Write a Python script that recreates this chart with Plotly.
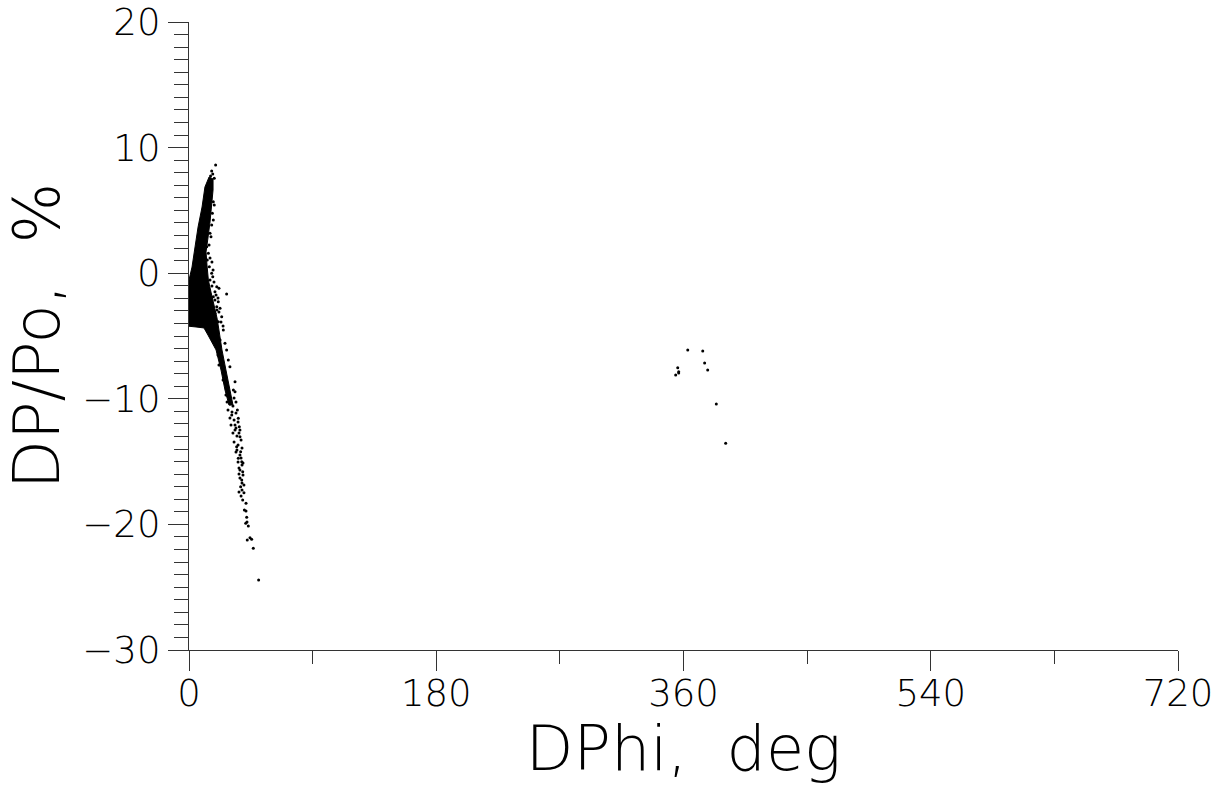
import plotly.graph_objects as go

# ---- data ----
# outline of the solid, densely packed core of the cloud (DPhi deg, DP/Po %)
core_x = [14.6, 17.5, 17.5, 16.7, 15.3, 13.8, 12.4, 13.1, 14.1, 16.0, 18.2, 20.4, 21.8,
          24.0, 26.9, 29.8, 32.0, 29.1, 26.2, 23.3, 19.7, 13.8, 10.9, 5.1, -2.2, -2.2,
          -1.5, 0.0, 2.2, 4.4, 6.6, 9.5, 11.6, 14.6]
core_y = [7.66, 7.50, 6.62, 5.43, 4.08, 2.80, 1.69, 0.65, -0.54, -1.50, -2.53, -3.57, -4.52,
          -6.11, -7.71, -9.30, -10.49, -10.49, -9.30, -7.71, -6.11, -4.92, -4.36, -4.28, -4.20, -2.93,
          -1.89, -0.54, 0.49, 2.09, 3.68, 5.27, 6.86, 7.66]

# individual scattered points around the core and along the tail
pts_x = [19.4, 16.5, 17.3, 18.4, 15.7, 17.7, 18.4, 17.0, 17.7, 16.5, 15.3, 16.0,
         12.9, 14.1, 13.3, 14.8, 16.5, 17.3, 15.3, 20.2, 21.8, 27.4, 18.9, 17.7,
         21.3, 20.2, 22.6, 18.9, 23.8, 15.3, 21.3, 14.1, 25.0, 26.2, 27.4, 28.6,
         29.8, 33.5, 32.3, 33.5, 22.6, 18.9, 16.7, 21.1, 21.8, 24.8, 26.9,
         29.8, 35.2, 35.9, 31.1, 36.6, 33.5, 37.1, 34.7, 37.6, 35.9, 38.4, 37.1,
         39.1, 38.4, 37.6, 40.0, 36.4, 37.9, 39.1, 41.5, 40.3, 41.5, 42.0, 41.3,
         42.2, 43.2, 44.4, 45.6, 42.4, 46.8, 50.7,
         27.7, 29.8, 32.0, 28.4, 31.3, 34.2, 29.8, 32.8, 35.7, 30.6, 34.2, 37.1,
         32.0, 34.9, 37.9, 32.8, 35.7, 38.6, 34.2, 37.1, 35.7, 38.6, 36.4, 39.3,
         37.1, 38.6, 32.8, 34.2, 28.4, 33.5, 36.4, 34.9, 37.9, 39.3, 36.4, 40.0, 38.6,
         14.6, 15.3, 16.7, 17.5, 18.2, 19.7, 21.1, 21.8, 23.3, 24.8, 16.7, 18.9, 20.4]
pts_y = [8.61, 8.14, 7.90, 7.56, 7.74, 5.69, 5.43, 4.77, 4.24, 3.84, 3.18, 2.91,
         2.11, 1.58, 1.05, 0.52, -0.01, -0.28, -0.54, -1.07, -1.20, -1.66, -1.47, -1.87,
         -2.27, -2.67, -2.80, -3.19, -3.46, -3.73, -3.86, -4.12, -4.52, -5.58, -6.11, -6.91,
         -7.44, -8.64, -9.30, -9.43, -5.32, -5.48, -5.16, -6.51, -7.31, -8.50, -9.70,
         -10.10, -10.89, -11.55, -11.29, -12.22, -12.48, -13.02, -13.81, -14.21, -14.74, -15.01, -15.67,
         -15.80, -16.46, -17.00, -17.48, -17.42, -17.74, -18.06, -18.32, -18.85, -18.93, -19.44, -19.91,
         -19.81, -20.13, -21.06, -21.19, -21.24, -21.90, -24.43,
         -10.25, -10.41, -10.57, -10.89, -11.05, -11.13, -11.53, -11.69, -11.85, -12.09, -12.33, -12.48,
         -12.72, -12.96, -13.28, -13.44, -13.68, -13.92, -14.24, -14.47, -15.03, -15.27, -15.51, -16.07,
         -16.31, -16.70, -9.94, -10.25, -9.78, -12.09, -12.72, -14.08, -14.71, -15.11, -15.99, -16.86, -17.26,
         2.24, 1.21, 0.89, 0.25, -0.70, -1.74, -1.97, -3.09, -3.89, -4.20, -1.02, -2.13, -2.93]

# points of the core that spill just left of DPhi = 0
edge_x = [-2.0, -2.2, -2.0, -1.8, -1.5, -1.2, -2.3]
edge_y = [-4.0, -3.5, -3.0, -2.5, -2.0, -1.5, -3.8]

# isolated group near one full turn
far_x = [363.1, 374.0, 375.4, 377.6, 355.8, 356.5, 356.5, 354.3, 383.9, 390.7]
far_y = [-6.11, -6.19, -7.15, -7.71, -7.52, -7.84, -7.95, -8.10, -10.41, -13.54]

x_ticks = [0, 180, 360, 540, 720]
y_ticks = [-30, -20, -10, 0, 10, 20]

FONT = "DejaVu Sans ExtraLight, DejaVu Sans, sans-serif"
AX = "#333333"

fig = go.Figure()
fig.add_trace(go.Scatter(x=core_x, y=core_y, mode="lines", fill="toself",
                         fillcolor="black", line=dict(color="black", width=1),
                         hoverinfo="skip", showlegend=False))
fig.add_trace(go.Scatter(x=pts_x, y=pts_y, mode="markers",
                         marker=dict(color="black", size=3, line=dict(width=0)),
                         showlegend=False))
fig.add_trace(go.Scatter(x=edge_x, y=edge_y, mode="markers", cliponaxis=False,
                         marker=dict(color="black", size=4, line=dict(width=0)),
                         showlegend=False))
fig.add_trace(go.Scatter(x=far_x, y=far_y, mode="markers",
                         marker=dict(color="black", size=3, line=dict(width=0)),
                         showlegend=False))

# plot area at x 189..1178, y 22..650 of the 1225x785 page (body margin removed)
fig.update_layout(
    width=1225, height=785,
    margin=dict(l=189, r=47, t=22, b=135),
    paper_bgcolor="white", plot_bgcolor="white",
    font=dict(family=FONT, color="black", weight=200),
)
fig.update_xaxes(
    range=[0, 720], tickvals=x_ticks, ticktext=[str(v) for v in x_ticks],
    automargin=False, ticklabeloverflow="allow",
    showgrid=False, zeroline=False, showline=True, linecolor=AX, linewidth=1.3,
    ticks="outside", ticklen=20, tickwidth=1.3, tickcolor=AX,
    tickfont=dict(family=FONT, size=37, weight=200), ticklabelstandoff=-10,
    minor=dict(dtick=90, ticks="outside", ticklen=13, tickwidth=1.3, tickcolor=AX, showgrid=False),
    title=dict(text="DPhi,  deg", font=dict(family=FONT, size=62, weight=200), standoff=0),
)
fig.update_yaxes(
    range=[-30, 20], tickvals=y_ticks, ticktext=[("\u2212" + str(-v)) if v < 0 else str(v) for v in y_ticks],
    automargin=False, ticklabeloverflow="allow",
    showgrid=False, zeroline=False, showline=True, linecolor=AX, linewidth=1.3,
    ticks="outside", ticklen=20, tickwidth=1.3, tickcolor=AX,
    tickfont=dict(family=FONT, size=37, weight=200),
    minor=dict(dtick=1, ticks="outside", ticklen=14, tickwidth=1.3, tickcolor=AX, showgrid=False),
    title=dict(text="DP/Po,  %", font=dict(family=FONT, size=64, weight=200), standoff=25),
)

fig.write_html("out.html", config={"displayModeBar": False},
               post_script="document.body.style.margin='0';")
